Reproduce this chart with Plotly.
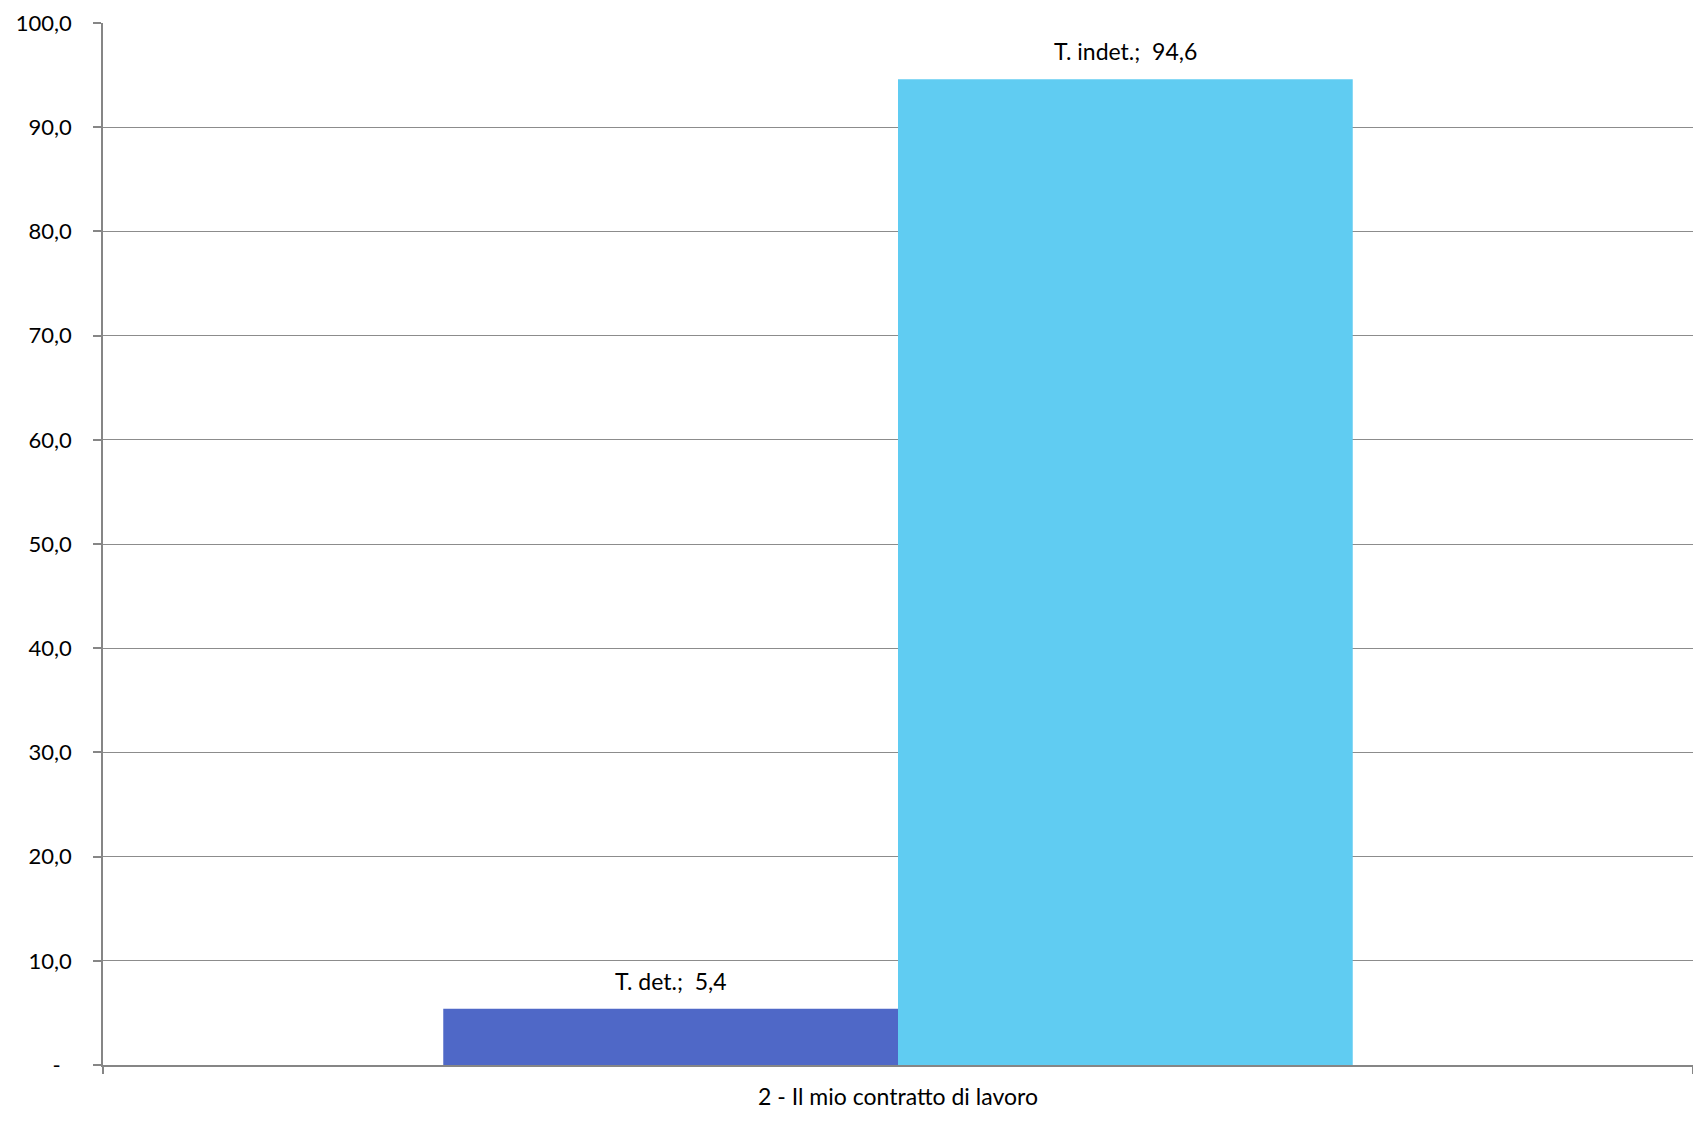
import plotly.graph_objects as go

categories = ["2 - Il mio contratto di lavoro"]
series_names = ["T. det.", "T. indet."]
series_values = [[5.4], [94.6]]
series_colors = ["#4F68C7", "#60CCF2"]
y_tickvals = [0, 10, 20, 30, 40, 50, 60, 70, 80, 90, 100]
y_ticktext = ["-\u00a0\u00a0", "10,0", "20,0", "30,0", "40,0", "50,0", "60,0", "70,0", "80,0", "90,0", "100,0"]

W, H = 1693, 1125
margin = dict(l=103, r=0, t=23, b=60)
FONT = "Lato, 'Open Sans', sans-serif"

fig = go.Figure()
for name, vals, col in zip(series_names, series_values, series_colors):
    fig.add_trace(go.Bar(x=categories, y=vals, name=name, marker=dict(color=col, line=dict(width=0))))

bargap = 0.428
plot_w = W - margin["l"] - margin["r"]
n = len(series_names)
bar_px = plot_w * (1 - bargap) / n
for i, (name, vals) in enumerate(zip(series_names, series_values)):
    shift = (i - (n - 1) / 2) * bar_px
    for c, v in zip(categories, vals):
        fig.add_annotation(x=c, y=v, xref="x", yref="y", xshift=shift, yshift=12,
                           text=f"{name};  " + f"{v:.1f}".replace(".", ","),
                           showarrow=False, yanchor="bottom",
                           font=dict(family=FONT, size=23, color="#000000"))

fig.update_layout(
    width=W, height=H, margin=margin,
    barmode="group", bargap=bargap, bargroupgap=0,
    plot_bgcolor="white", paper_bgcolor="white",
    showlegend=False,
    font=dict(family=FONT, size=22, color="#000000"),
    separators=",.",
)
fig.update_yaxes(range=[0, 100], tickvals=y_tickvals, ticktext=y_ticktext,
                 showgrid=True, gridcolor="#8C8C8C", gridwidth=1,
                 showline=True, linecolor="#868686", linewidth=1.5,
                 ticks="outside", ticklen=8, tickcolor="#868686", tickwidth=1.5,
                 ticklabelstandoff=17, zeroline=False,
                 tickfont=dict(family=FONT, size=22, color="#000000"))
fig.update_xaxes(showline=True, linecolor="#868686", linewidth=2,
                 ticks="outside", ticklen=7, tickcolor="#868686", tickwidth=1.5,
                 tickson="boundaries", ticklabelstandoff=10, showgrid=False,
                 tickfont=dict(family=FONT, size=23, color="#000000"))

fig.write_html("out.html",
               config={"displayModeBar": False},
               post_script="document.body.style.margin='0';document.body.style.overflow='hidden';")
